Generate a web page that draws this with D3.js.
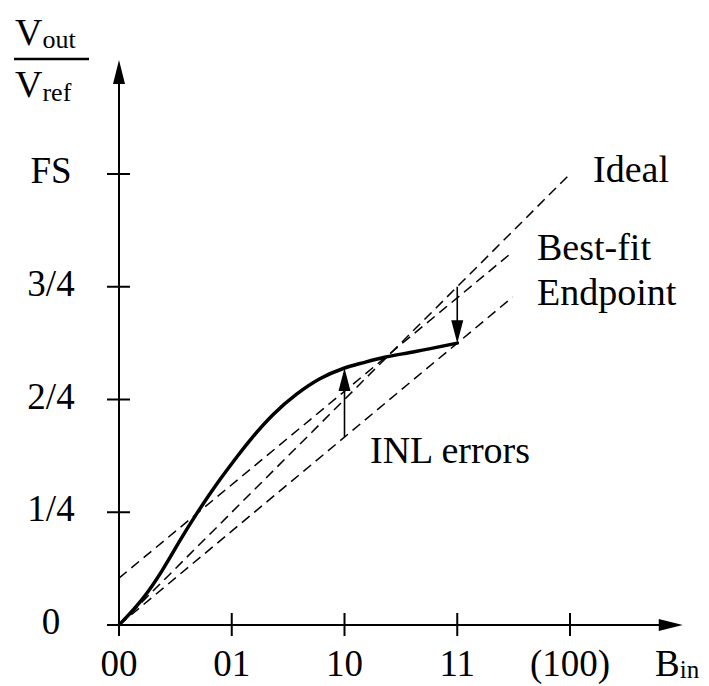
<!DOCTYPE html>
<html>
<head>
<meta charset="utf-8">
<script src="https://cdn.jsdelivr.net/npm/d3@7/dist/d3.min.js"></script>
<style>
  html, body { margin: 0; padding: 0; background: #fff; }
  svg text { font-family: "Liberation Serif", "Times New Roman", serif; fill: #000; }
</style>
</head>
<body>
<svg id="chart" width="709" height="686"></svg>
<script>
// ---- data ----
const xCodes = [0, 1, 2, 3, 4];
const xTickLabels = ["00", "01", "10", "11", "(100)"];
const yTicks = [0, 0.25, 0.5, 0.75, 1];
const yTickLabels = ["0", "1/4", "2/4", "3/4", "FS"];

// actual (non-linear) transfer curve
const curveX = [0, 0.21, 0.39, 0.54, 0.69, 0.87, 1.07, 1.16, 1.37, 1.58, 1.78, 1.99, 2.16, 2.34, 2.61, 3.0];
const curveY = [0, 0.055, 0.122, 0.188, 0.248, 0.315, 0.381, 0.41, 0.47, 0.514, 0.548, 0.570, 0.581, 0.594, 0.605, 0.625];

// reference lines: [x0, y0, x1, y1]
const idealLine = [0, 0, 4, 1];
const bestFitLine = [0, 0.104, 3.49, 0.827];
const endpointLine = [0, 0, 3.49, 0.727];

// INL error arrows: [x, yFrom, yTo]
const inlArrows = [[2, 0.417, 0.570], [3, 0.75, 0.625]];

// ---- scales ----
const x = d3.scaleLinear().domain([0, 4]).range([119, 570]);
const y = d3.scaleLinear().domain([0, 1]).range([625, 174]);

const svg = d3.select("#chart");

function arrowHead(g, tx, ty, dx, dy, len, wid) {
  const n = Math.hypot(dx, dy); dx /= n; dy /= n;
  const bx = tx - dx * len, by = ty - dy * len;
  const px = -dy * wid / 2, py = dx * wid / 2;
  g.append("path")
    .attr("d", `M${tx},${ty}L${bx + px},${by + py}L${bx - px},${by - py}Z`)
    .attr("fill", "#000");
}

// ---- dashed reference lines ----
const dashed = svg.append("g").attr("fill", "none").attr("stroke", "#000")
  .attr("stroke-width", 1.5).attr("stroke-dasharray", "10,6");
[idealLine, bestFitLine, endpointLine].forEach(l => {
  dashed.append("line")
    .attr("x1", x(l[0])).attr("y1", y(l[1]))
    .attr("x2", x(l[2])).attr("y2", y(l[3]));
});

// ---- axes ----
const axes = svg.append("g").attr("stroke", "#000").attr("stroke-width", 2);
const xAxisEnd = 5.0, yAxisEnd = 1.253;
axes.append("line").attr("x1", x(0) - 12).attr("y1", y(0)).attr("x2", x(xAxisEnd) - 10).attr("y2", y(0));
axes.append("line").attr("x1", x(0)).attr("y1", y(0) + 11).attr("x2", x(0)).attr("y2", y(yAxisEnd) + 10);
arrowHead(svg, x(xAxisEnd), y(0), 1, 0, 24, 12);
arrowHead(svg, x(0), y(yAxisEnd), 0, -1, 24, 12);

axes.selectAll(".xt").data(xCodes).join("line")
  .attr("x1", d => x(d)).attr("x2", d => x(d))
  .attr("y1", y(0) - 12).attr("y2", y(0) + 11);
axes.selectAll(".yt").data(yTicks).join("line")
  .attr("y1", d => y(d)).attr("y2", d => y(d))
  .attr("x1", x(0) - 12).attr("x2", x(0) + 11);

svg.selectAll(".xl").data(xCodes).join("text")
  .attr("x", d => x(d)).attr("y", y(0) + 51)
  .attr("text-anchor", "middle").attr("font-size", 37)
  .text((d, i) => xTickLabels[i]);
svg.selectAll(".yl").data(yTicks).join("text")
  .attr("x", 51).attr("y", d => y(d) + 9)
  .attr("text-anchor", "middle").attr("font-size", 37)
  .text((d, i) => yTickLabels[i]);

// axis titles
const bin = svg.append("text").attr("x", 655).attr("y", y(0) + 51).attr("font-size", 37);
bin.append("tspan").text("B");
bin.append("tspan").attr("font-size", 25).attr("dy", 2).text("in");

const vout = svg.append("text").attr("x", 15).attr("y", 45).attr("font-size", 38);
vout.append("tspan").text("V");
vout.append("tspan").attr("font-size", 26).attr("dy", 3).text("out");
svg.append("line").attr("x1", 14).attr("x2", 89).attr("y1", 59).attr("y2", 59)
  .attr("stroke", "#000").attr("stroke-width", 2.5);
const vref = svg.append("text").attr("x", 15).attr("y", 97).attr("font-size", 38);
vref.append("tspan").text("V");
vref.append("tspan").attr("font-size", 26).attr("dy", 4).text("ref");

// ---- actual curve ----
const pts = curveX.map((d, i) => [d, curveY[i]]);
svg.append("path").datum(pts)
  .attr("fill", "none").attr("stroke", "#000").attr("stroke-width", 3.5)
  .attr("stroke-linejoin", "round").attr("stroke-linecap", "round")
  .attr("d", d3.line().x(d => x(d[0])).y(d => y(d[1])).curve(d3.curveBasis));

// ---- INL arrows ----
inlArrows.forEach(a => {
  const dir = a[2] > a[1] ? -1 : 1;
  svg.append("line")
    .attr("x1", x(a[0])).attr("x2", x(a[0]))
    .attr("y1", y(a[1])).attr("y2", y(a[2]) - dir * 15)
    .attr("stroke", "#000").attr("stroke-width", 1.6);
  arrowHead(svg, x(a[0]), y(a[2]), 0, dir, 23, 12);
});

// ---- labels ----
svg.append("text").attr("x", 593).attr("y", 182).attr("font-size", 38).text("Ideal");
svg.append("text").attr("x", 537).attr("y", 260).attr("font-size", 38).text("Best-fit");
svg.append("text").attr("x", 537).attr("y", 305).attr("font-size", 38).text("Endpoint");
svg.append("text").attr("x", 370).attr("y", 463).attr("font-size", 38).text("INL errors");
</script>
</body>
</html>
